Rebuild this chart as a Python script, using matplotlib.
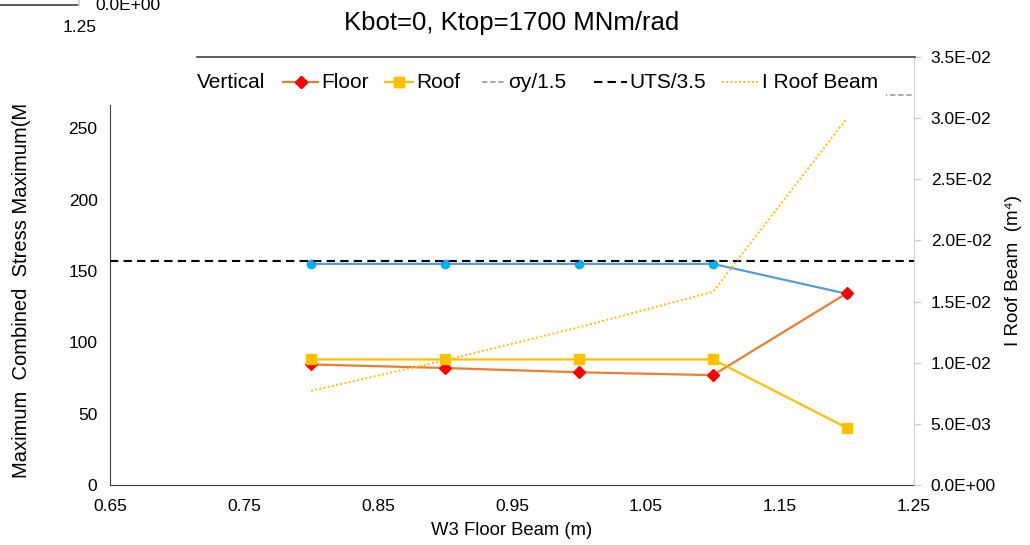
import matplotlib
matplotlib.use("Agg")
import matplotlib.pyplot as plt
from matplotlib.lines import Line2D
from matplotlib.patches import Rectangle

plt.rcParams['font.family'] = ['Liberation Sans', 'DejaVu Sans']

# Beam depth of the W3 floor beam (m)
depth = [0.8, 0.9, 1.0, 1.1, 1.2]
# Maximum combined stress (MPa)
vertical = [155, 155, 155, 155, 134]
floor = [84.5, 82, 79, 77, 134.5]
roof = [88, 88, 88, 88, 40]
sigma_y_limit = 273.3   # sigma_y / 1.5
uts_limit = 157.1       # UTS / 3.5
# Second moment of area of the roof beam (m^4)
i_roof = [0.0077, 0.0102, 0.0129, 0.0158, 0.0300]

x_ticks = [0.65, 0.75, 0.85, 0.95, 1.05, 1.15, 1.25]
y_ticks = [0, 50, 100, 150, 200, 250]
y2_ticks = [0, 0.005, 0.010, 0.015, 0.020, 0.025, 0.030, 0.035]
y2_labels = ["0.0E+00", "5.0E-03", "1.0E-02", "1.5E-02", "2.0E-02",
             "2.5E-02", "3.0E-02", "3.5E-02"]

W, H = 1030, 545
fig = plt.figure(figsize=(W / 100, H / 100), dpi=100)
ax = fig.add_axes([110 / W, 1 - 485 / H, 804 / W, 428 / H])
ax2 = ax.twinx()

c_blue_line = "#5B9BD5"
c_blue_mk = "#00B0F0"
c_orange = "#ED7D31"
c_red = "#FF0000"
c_yellow = "#FFC000"
c_gray = "#A5A5A5"

ax.plot(depth, vertical, color=c_blue_line, lw=1.6, marker='o', ms=6,
        mfc=c_blue_mk, mec=c_blue_mk, zorder=3)
ax.plot(depth, floor, color=c_orange, lw=1.6, marker='D', ms=6,
        mfc=c_red, mec=c_red, zorder=4)
ax.plot(depth, roof, color=c_yellow, lw=1.6, marker='s', ms=7.5,
        mfc=c_yellow, mec=c_yellow, zorder=5)
ax.axhline(sigma_y_limit, color=c_gray, lw=1.3, dashes=(3, 1.5), zorder=2)
ax.axhline(uts_limit, color="black", lw=1.5, dashes=(4, 2.5), zorder=6)

ax2.plot(depth, i_roof, color=c_yellow, lw=1.4, ls=(0, (1, 1.2)), zorder=3)

ax.set_xlim(0.65, 1.25)
ax.set_ylim(0, 300)
ax2.set_ylim(0, 0.035)
ax.set_xticks(x_ticks)
ax.set_xticklabels([f"{v:.2f}" for v in x_ticks])
ax.set_yticks(y_ticks)
ax2.set_yticks(y2_ticks)
ax2.set_yticklabels(y2_labels)

ax.tick_params(axis='x', length=0, pad=10, labelsize=12.5, colors="#000000")
ax.tick_params(axis='y', length=0, pad=9, labelsize=12.5)
ax2.tick_params(axis='y', length=5, width=1, color="#D0D0D0", pad=7,
                labelsize=12.5)

for a in (ax, ax2):
    a.spines['top'].set_visible(False)
    a.spines['left'].set_color("#404040")
    a.spines['bottom'].set_color("#404040")
    a.spines['right'].set_color("#D0D0D0")
    a.set_facecolor("none")
ax2.spines['left'].set_visible(False)
ax2.spines['bottom'].set_visible(False)
ax.spines['right'].set_visible(False)

ax.set_xlabel("W3 Floor Beam (m)", fontsize=13.3, labelpad=6)
fig.text(22 / W, 1 - 290 / H, "Maximum  Combined  Stress Maximum(M",
         rotation=90, ha='center', va='center', fontsize=14.5)
fig.text(1013 / W, 1 - 270 / H, "I Roof Beam  (m\u2074)", rotation=90,
         ha='center', va='center', fontsize=13.5)
fig.text(512 / W, 1 - 23 / H, "Kbot=0, Ktop=1700 MNm/rad",
         ha='center', va='center', fontsize=18.5)

# Legend strip across the top of the plot area
fig.patches.append(Rectangle((100 / W, 1 - 105 / H), (886 - 100) / W, 53 / H,
                             transform=fig.transFigure, facecolor="white",
                             edgecolor="none", zorder=20))
fig.lines.append(Line2D([197 / W, 915 / W], [1 - 57 / H, 1 - 57 / H],
                        transform=fig.transFigure, color="#404040", lw=1.2,
                        zorder=21))
ly = 1 - 82 / H
legend_fs = 15
fig.text(197 / W, ly, "Vertical", ha='left', va='center', fontsize=legend_fs,
         zorder=22)

def handle(x0, x1, **kw):
    fig.lines.append(Line2D([x0 / W, x1 / W], [ly, ly],
                            transform=fig.transFigure, zorder=22, **kw))

handle(283, 318, color=c_orange, lw=1.6)
handle((283 + 318) / 2, (283 + 318) / 2, marker='D', ms=6, mfc=c_red,
       mec=c_red, lw=0)
fig.text(321 / W, ly, "Floor", ha='left', va='center', fontsize=legend_fs,
         zorder=22)
handle(385, 413, color=c_yellow, lw=1.6)
handle(399, 399, marker='s', ms=7.5, mfc=c_yellow, mec=c_yellow, lw=0)
fig.text(416 / W, ly, "Roof", ha='left', va='center', fontsize=legend_fs,
         zorder=22)
handle(482, 506, color=c_gray, lw=1.3, dashes=(3, 1.5))
fig.text(508 / W, ly, "\u03c3y/1.5", ha='left', va='center',
         fontsize=legend_fs, zorder=22)
handle(594, 627, color="black", lw=1.5, dashes=(4, 2.5))
fig.text(629 / W, ly, "UTS/3.5", ha='left', va='center', fontsize=legend_fs,
         zorder=22)
handle(722, 758, color=c_yellow, lw=1.4, ls=(0, (1, 1.2)))
fig.text(762 / W, ly, "I Roof Beam", ha='left', va='center',
         fontsize=legend_fs, zorder=22)

# Leftover axis fragment in the top-left corner
fig.lines.append(Line2D([0, 78 / W], [1 - 5 / H, 1 - 5 / H],
                        transform=fig.transFigure, color="#404040", lw=1.2))
fig.lines.append(Line2D([79 / W, 79 / W], [1, 1 - 6 / H],
                        transform=fig.transFigure, color="#D0D0D0", lw=1.2))
fig.text(95 / W, 1 - 6 / H, "0.0E+00", ha='left', va='center', fontsize=12.5)
fig.text(80 / W, 1 - 27 / H, "1.25", ha='center', va='center', fontsize=12.5)

fig.savefig("out.png", dpi=100)
